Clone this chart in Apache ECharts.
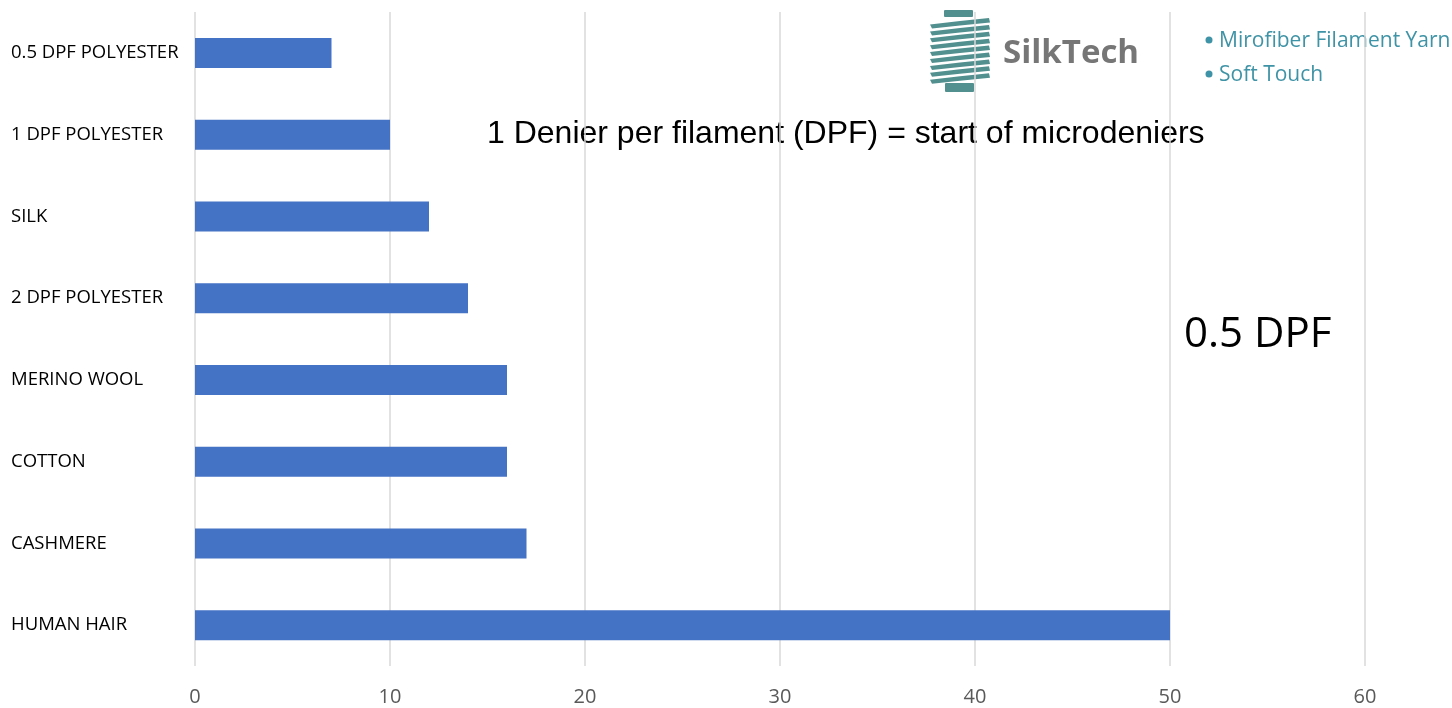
<!DOCTYPE html>
<html>
<head>
<meta charset="utf-8">
<script src="https://cdn.jsdelivr.net/npm/echarts@6/dist/echarts.min.js"></script>
<style>
  html, body { margin: 0; padding: 0; background: #ffffff; }
  #chart { width: 1452px; height: 708px; }
</style>
</head>
<body>
<div id="chart"></div>
<script>
// Fibre fineness by material
const categories = ['0.5 DPF POLYESTER', '1 DPF POLYESTER', 'SILK', '2 DPF POLYESTER',
                    'MERINO WOOL', 'COTTON', 'CASHMERE', 'HUMAN HAIR'];
const values = [7, 10, 12, 14, 16, 16, 17, 50];
const xTicks = [0, 10, 20, 30, 40, 50, 60];
const noteText = '1 Denier per filament (DPF) = start of microdeniers';
const bigNote = '0.5 DPF';
const brandName = 'SilkTech';
const brandBullets = ['Mirofiber Filament Yarn', 'Soft Touch'];

const teal = '#52908f';
const bulletColor = '#3f93a6';

// Spool icon: caps plus slanted thread windings
const spool = [
  { type: 'rect', shape: { x: 944, y: 10, width: 29, height: 7, r: 1 }, style: { fill: teal } },
  { type: 'rect', shape: { x: 945, y: 83, width: 29, height: 9, r: 1 }, style: { fill: teal } }
];
for (let i = 0; i < 9; i++) {
  const y = 20 + i * 6.9;
  spool.push({
    type: 'polygon',
    shape: { points: [[930, y + 4.5], [960, y + 1], [989, y - 2], [990, y + 2.5], [960, y + 5.5], [932, y + 8.5]] },
    style: { fill: teal }
  });
}

// Brand block bullets drawn as filled dots
const bulletDots = [40, 74].map(cy => ({
  type: 'circle', shape: { cx: 1209, cy: cy, r: 3.5 }, style: { fill: bulletColor }
}));

const graphics = spool.concat(bulletDots, [
  { type: 'text', left: 1003, top: 37,
    style: { text: brandName, fill: '#767676', font: 'bold 33px "Open Sans"' } },
  { type: 'text', left: 1219, top: 31,
    style: { text: brandBullets[0], fill: bulletColor, font: '21px "Open Sans"' } },
  { type: 'text', left: 1219, top: 65,
    style: { text: brandBullets[1], fill: bulletColor, font: '21px "Open Sans"' } },
  { type: 'text', left: 487, top: 118,
    style: { text: noteText, fill: '#000000', font: '32px "Liberation Sans"' } },
  { type: 'text', left: 1184, top: 314,
    style: { text: bigNote, fill: '#000000', font: '42px "Open Sans"' } }
]).map(g => Object.assign({ z: -5 }, g));

const chart = echarts.init(document.getElementById('chart'), null, { renderer: 'canvas' });
chart.setOption({
  animation: false,
  backgroundColor: '#ffffff',
  grid: { left: 195, right: 87, top: 12, bottom: 42, containLabel: false },
  xAxis: {
    type: 'value',
    min: xTicks[0],
    max: xTicks[xTicks.length - 1],
    interval: xTicks[1] - xTicks[0],
    axisLine: { show: false },
    axisTick: { show: false },
    axisLabel: { color: '#595959', fontSize: 20, fontFamily: 'Open Sans', margin: 21 },
    splitLine: { show: true, lineStyle: { color: '#d9d9d9', width: 1.5 } }
  },
  yAxis: {
    type: 'category',
    data: categories,
    inverse: true,
    axisLine: { show: false },
    axisTick: { show: false },
    axisLabel: { color: '#000000', fontSize: 18.5, fontFamily: 'Open Sans', align: 'left', margin: 184 }
  },
  series: [{
    type: 'bar',
    data: values,
    barWidth: 30,
    itemStyle: { color: '#4472c4' },
    z: 3
  }],
  graphic: graphics
});
</script>
</body>
</html>
